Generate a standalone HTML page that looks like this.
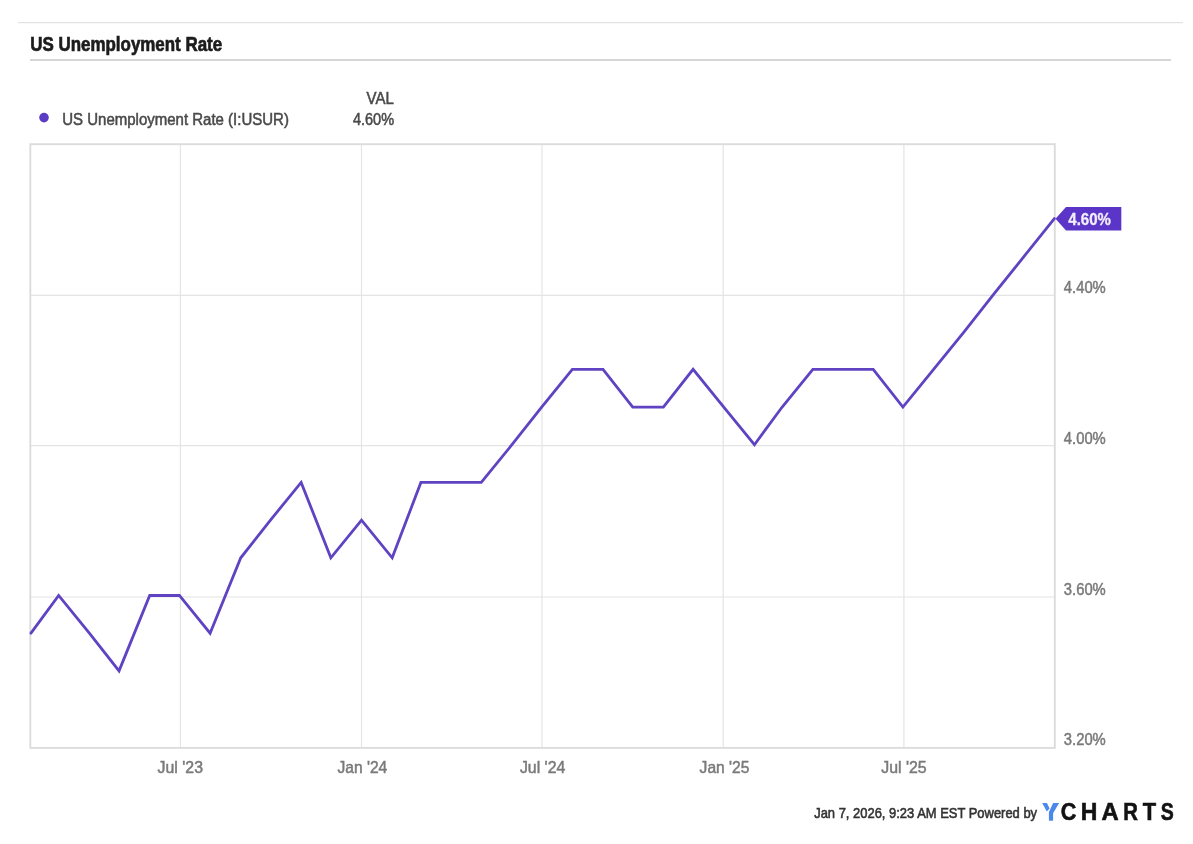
<!DOCTYPE html>
<html>
<head>
<meta charset="utf-8">
<style>
html,body{margin:0;padding:0;background:#fff;}
body{width:1193px;height:844px;overflow:hidden;}
svg{display:block;will-change:transform;}
text{font-family:"Liberation Sans",sans-serif;}
</style>
</head>
<body>
<svg width="1193" height="844" viewBox="0 0 1193 844">
  <rect x="0" y="0" width="1193" height="844" fill="#ffffff"/>
  <!-- top rule -->
  <rect x="18" y="22" width="1165" height="1.2" fill="#e2e2e2"/>
  <!-- title -->
  <text x="30.2" y="51.3" font-size="20.5" font-weight="bold" fill="#1c1c1c" stroke="#1c1c1c" stroke-width="0.7" textLength="192" lengthAdjust="spacingAndGlyphs">US Unemployment Rate</text>
  <rect x="30" y="59" width="1141" height="2" fill="#d6d6d6"/>

  <!-- legend -->
  <circle cx="44" cy="117.6" r="4.8" fill="#5b3cc4"/>
  <text x="62.3" y="124.6" font-size="17" fill="#4a4a4a" stroke="#4a4a4a" stroke-width="0.55" textLength="226.6" lengthAdjust="spacingAndGlyphs">US Unemployment Rate (I:USUR)</text>
  <text x="366.6" y="103.8" font-size="16.5" fill="#4a4a4a" stroke="#4a4a4a" stroke-width="0.55" textLength="27.2" lengthAdjust="spacingAndGlyphs">VAL</text>
  <text x="352.9" y="125.2" font-size="17" fill="#4a4a4a" stroke="#4a4a4a" stroke-width="0.55" textLength="41.2" lengthAdjust="spacingAndGlyphs">4.60%</text>

  <!-- gridlines -->
  <g stroke="#e4e4e4" stroke-width="1.2" fill="none">
    <line x1="180.4" y1="144" x2="180.4" y2="748"/>
    <line x1="361.5" y1="144" x2="361.5" y2="748"/>
    <line x1="542" y1="144" x2="542" y2="748"/>
    <line x1="723.2" y1="144" x2="723.2" y2="748"/>
    <line x1="903.9" y1="144" x2="903.9" y2="748"/>
    <line x1="30" y1="295.4" x2="1055" y2="295.4"/>
    <line x1="30" y1="445.6" x2="1055" y2="445.6"/>
    <line x1="30" y1="597" x2="1055" y2="597"/>
  </g>
  <!-- plot border -->
  <rect x="30.3" y="144.2" width="1024.5" height="603.7" fill="none" stroke="#dcdcdc" stroke-width="1.9"/>

  <!-- series line -->
  <polyline fill="none" stroke="#5f43c2" stroke-width="2.8" stroke-linejoin="miter" stroke-miterlimit="4" stroke-linecap="round"
    points="30.95,633.18 58.66,595.49 89.34,633.18 119.04,670.87 149.72,595.49 179.41,595.49 210.09,633.18 240.77,557.80 270.47,520.10 301.15,482.41 330.84,557.80 361.52,520.10 392.20,557.80 420.91,482.41 451.59,482.41 481.28,482.41 511.96,444.72 541.66,407.03 572.34,369.34 603.02,369.34 632.71,407.03 663.39,407.03 693.09,369.34 723.77,407.03 754.45,444.72 782.16,407.03 812.84,369.34 842.54,369.34 873.22,369.34 902.91,407.03 933.59,369.34 964.27,331.64 993.97,293.95 1054.34,218.57"/>

  <!-- end tag -->
  <path d="M1055.5,218.7 L1066,207 L1121.3,207 L1121.3,230.5 L1066,230.5 Z" fill="#5b35c8"/>
  <text x="1068.3" y="224.5" font-size="16.5" font-weight="bold" fill="#f2eefc" stroke="#f2eefc" stroke-width="0.3" textLength="42.6" lengthAdjust="spacingAndGlyphs">4.60%</text>

  <!-- y axis labels -->
  <g font-size="16.5" fill="#7a7a7a" stroke="#7a7a7a" stroke-width="0.5">
    <text x="1063.8" y="293.3" textLength="42" lengthAdjust="spacingAndGlyphs">4.40%</text>
    <text x="1063.8" y="443.5" textLength="42" lengthAdjust="spacingAndGlyphs">4.00%</text>
    <text x="1063.8" y="594.9" textLength="42" lengthAdjust="spacingAndGlyphs">3.60%</text>
    <text x="1063.8" y="745.2" textLength="42" lengthAdjust="spacingAndGlyphs">3.20%</text>
  </g>

  <!-- x axis labels -->
  <g font-size="16.5" fill="#7a7a7a" stroke="#7a7a7a" stroke-width="0.5">
    <text x="157.6" y="772.7" textLength="45.4" lengthAdjust="spacingAndGlyphs">Jul '23</text>
    <text x="337.5" y="772.7" textLength="49.8" lengthAdjust="spacingAndGlyphs">Jan '24</text>
    <text x="519.9" y="772.7" textLength="45.4" lengthAdjust="spacingAndGlyphs">Jul '24</text>
    <text x="699.6" y="772.7" textLength="49.8" lengthAdjust="spacingAndGlyphs">Jan '25</text>
    <text x="881.3" y="772.7" textLength="45.4" lengthAdjust="spacingAndGlyphs">Jul '25</text>
  </g>

  <!-- footer -->
  <text x="814.2" y="817.8" font-size="15" fill="#333333" stroke="#333333" stroke-width="0.6" textLength="222.9" lengthAdjust="spacingAndGlyphs">Jan 7, 2026, 9:23 AM EST Powered by</text>
  <!-- ycharts logo -->
  <g fill="#4b88ec">
    <path d="M1042.2,803 L1046.9,803 L1049.6,808.4 L1046.8,811.6 Z"/>
    <path d="M1053.1,803 L1059.1,803 L1053.1,813.2 L1053.1,820 Q1053.1,820.7 1052.4,820.7 L1049.6,820.7 Q1048.9,820.7 1048.9,820 L1048.9,812.2 Z"/>
  </g>
  <g font-size="23.6" font-weight="bold" fill="#121212" stroke="#121212" stroke-width="0.6">
    <text transform="translate(1060.72,820) scale(0.914,1)" x="0" y="0">C</text>
    <text transform="translate(1080.86,820) scale(0.973,1)" x="0" y="0">H</text>
    <text transform="translate(1101.41,820) scale(1.007,1)" x="0" y="0">A</text>
    <text transform="translate(1123.14,820) scale(0.861,1)" x="0" y="0">R</text>
    <text transform="translate(1142.75,820) scale(0.928,1)" x="0" y="0">T</text>
    <text transform="translate(1160.74,820) scale(0.827,1)" x="0" y="0">S</text>
  </g>
</svg>
</body>
</html>
